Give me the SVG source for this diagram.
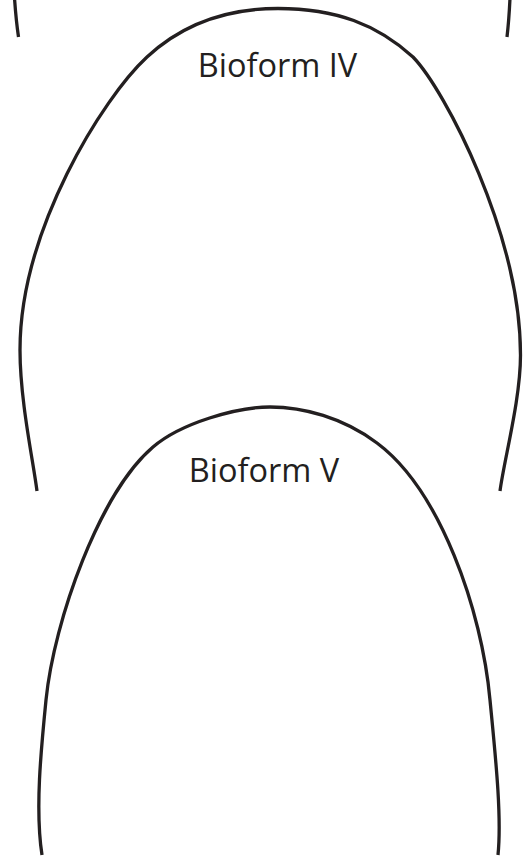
<svg xmlns="http://www.w3.org/2000/svg" width="526" height="865" viewBox="0 0 526 865">
  <style>
    .arch { fill: none; stroke: #231f20; stroke-width: 3.3; stroke-linecap: butt; }
    .label { font-family: "Open Sans", "Liberation Sans", sans-serif; font-size: 32.5px; fill: #231f20; text-anchor: middle; }
  </style>
  <rect width="526" height="865" fill="#ffffff"/>
  <g id="bioform-iii-tail">
    <path class="arch" d="M14.5,-2 Q16,20 18.5,37"/>
    <path class="arch" d="M510,-2 Q509,20 507,37"/>
  </g>
  <g id="bioform-iv">
    <path class="arch" d="M37,491 C33,460 20,400 20,350 C20,230 103,97.7 147,57 C182,24.5 226,8.5 278,8.5 C336,8.5 377,24.5 413,57 C445,90 520.5,235 520.5,355 C520.5,400 504,460 500,491"/>
    <text class="label" x="277.5" y="77">Bioform IV</text>
  </g>
  <g id="bioform-v">
    <path class="arch" d="M42,855 C35,810 41,750 46,700 C54,620 100,492 153,447 C181,423 237,407 270,407 C303,407 343,417.5 377,443 C440,490 482,610 490,700 C495,752 502,815 498,855"/>
    <text class="label" x="264" y="482">Bioform V</text>
  </g>
  <g id="connectors"/>
</svg>
